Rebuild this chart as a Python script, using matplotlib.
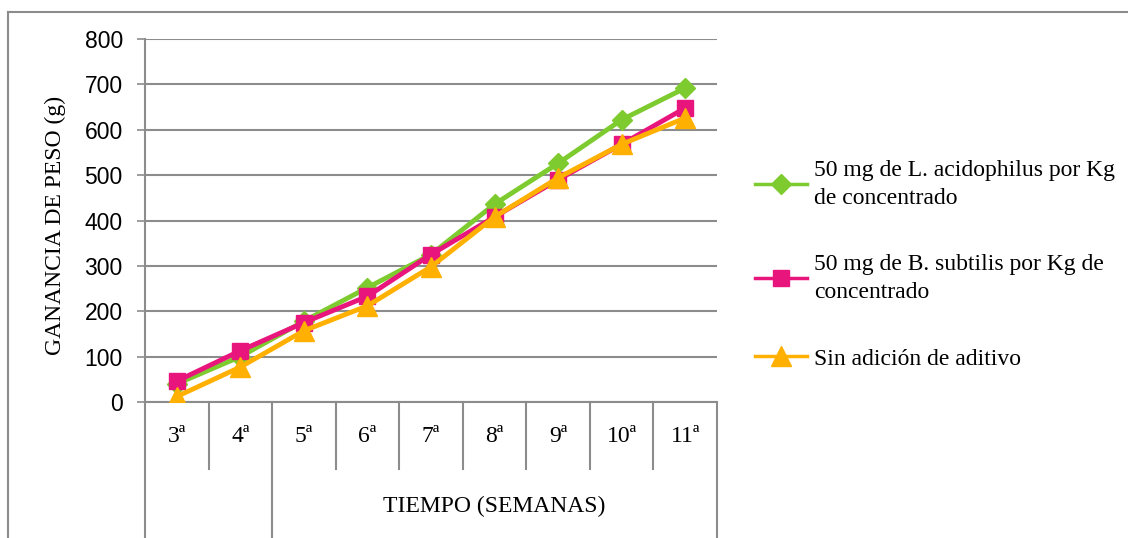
import matplotlib
matplotlib.use("Agg")
import matplotlib.pyplot as plt
from matplotlib.lines import Line2D
import matplotlib.transforms as mtransforms

# ---- data ----
weeks = ["3ª", "4ª", "5ª", "6ª", "7ª", "8ª", "9ª", "10ª", "11ª"]
lacidophilus = [40, 100, 178, 252, 325, 436, 526, 622, 692]
bsubtilis = [46, 113, 175, 233, 325, 408, 490, 568, 648]
sin_aditivo = [12, 77, 157, 212, 298, 408, 494, 568, 626]
labels = ["50 mg de L. acidophilus por Kg\nde concentrado",
          "50 mg de B. subtilis por Kg de\nconcentrado",
          "Sin adición de aditivo"]
yticks = [0, 100, 200, 300, 400, 500, 600, 700, 800]

GREEN = "#7DCB2E"
PINK = "#E8157C"
ORANGE = "#FFB000"
GRID = "#8C8C8C"
SERIF = ["Liberation Serif", "DejaVu Serif"]
SANS = ["Liberation Sans", "DejaVu Sans"]

W, H = 1128, 538
fig = plt.figure(figsize=(W / 100, H / 100), dpi=100)
ax = fig.add_axes([145 / W, 1 - 402 / H, (717 - 145) / W, (402 - 39) / H])

x = list(range(len(weeks)))
ax.plot(x, lacidophilus, color=GREEN, lw=3.5, marker="D", ms=10.5,
        label=labels[0], zorder=3)
ax.plot(x, bsubtilis, color=PINK, lw=3.5, marker="s", ms=12,
        label=labels[1], zorder=4)
ax.plot(x, sin_aditivo, color=ORANGE, lw=3.5, marker="^", ms=14,
        label=labels[2], zorder=5)

ax.set_xlim(-0.5, len(weeks) - 0.5)
ax.set_ylim(0, 800)
ax.set_yticks(yticks)
ax.set_yticklabels([str(v) for v in yticks], fontsize=16.5, family=SANS)
ax.yaxis.grid(True, color=GRID, lw=1.5)
ax.set_axisbelow(True)
ax.tick_params(axis="y", length=6, width=1.2, color=GRID, pad=10)
ax.set_xticks([])
for s in ["top", "right"]:
    ax.spines[s].set_visible(False)
for s in ["left", "bottom"]:
    ax.spines[s].set_color(GRID)
    ax.spines[s].set_linewidth(1.5)

# category table below axis
trans = mtransforms.blended_transform_factory(ax.transData, ax.transAxes)
y_inner = -(469 - 402) / (402 - 39)
y_bottom = -(560 - 402) / (402 - 39)
n = len(weeks)
for k in range(n + 1):
    xb = k - 0.5
    ybot = y_bottom if k in (0, 2, n) else y_inner
    ax.add_line(Line2D([xb, xb], [0, ybot], transform=trans, color=GRID,
                       lw=1.5, clip_on=False))
for i, w in enumerate(weeks):
    ax.text(i, -(436 - 402) / (402 - 39), w, transform=trans, ha="center",
            va="center", fontsize=17, family=SERIF)
ax.text((1.5 + n - 0.5) / 2, -(506 - 402) / (402 - 39), "TIEMPO (SEMANAS)",
        transform=trans, ha="center", va="center", fontsize=17, family=SERIF)

# y label
fig.text(55 / W, 1 - 225 / H, "GANANCIA DE PESO (g)", rotation=90,
         ha="center", va="center", fontsize=17, family=SERIF)

# outer border (left and top visible)
fig.add_artist(Line2D([8 / W, 8 / W], [0, 1 - 12 / H], transform=fig.transFigure,
                      color=GRID, lw=1.5))
fig.add_artist(Line2D([8 / W, 1], [1 - 12 / H, 1 - 12 / H], transform=fig.transFigure,
                      color=GRID, lw=1.5))

leg = ax.legend(loc="upper left", bbox_to_anchor=(755 / W, 1 - 160 / H),
                bbox_transform=fig.transFigure, frameon=False,
                prop={"family": SERIF, "size": 17}, handlelength=2.2,
                handletextpad=0.3, labelspacing=1.9, borderpad=0,
                borderaxespad=0)
for t in leg.get_texts():
    t.set_linespacing(1.45)
for h in leg.legend_handles:
    h.set_linewidth(2.5)

fig.savefig("out.png", dpi=100)
